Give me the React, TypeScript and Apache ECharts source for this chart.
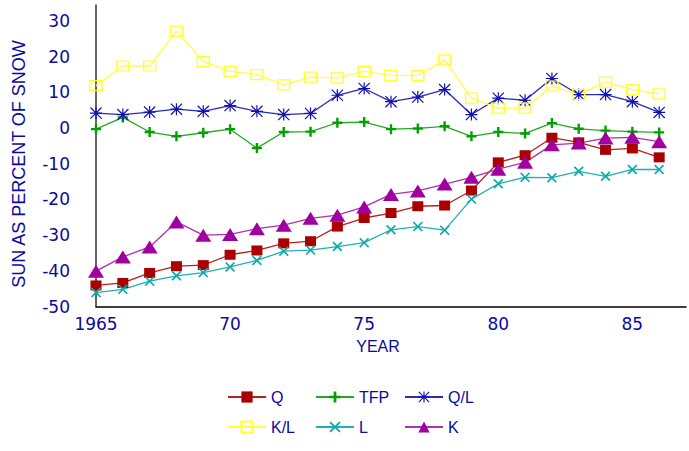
import React, { useEffect, useRef } from "react";
import * as echarts from "echarts";

const years = [1965, 1966, 1967, 1968, 1969, 1970, 1971, 1972, 1973, 1974, 1975, 1976, 1977, 1978, 1979, 1980, 1981, 1982, 1983, 1984, 1985, 1986];

const qValues = [-44.1, -43.4, -40.6, -38.7, -38.4, -35.5, -34.3, -32.3, -31.7, -27.6, -25.2, -23.8, -21.9, -21.7, -17.5, -9.6, -7.6, -2.7, -4.0, -6.1, -5.7, -8.2];
const tfpValues = [-0.3, 3.0, -1.1, -2.3, -1.3, -0.3, -5.6, -1.1, -1.0, 1.5, 1.7, -0.3, -0.1, 0.5, -2.3, -1.1, -1.5, 1.4, -0.2, -0.7, -1.0, -1.2];
const qlValues = [4.2, 3.8, 4.5, 5.3, 4.7, 6.3, 4.7, 3.8, 4.1, 9.2, 11.1, 7.4, 8.7, 10.8, 3.8, 8.4, 7.8, 13.9, 9.4, 9.4, 7.4, 4.4];
const klValues = [11.9, 17.4, 17.4, 27.2, 18.7, 15.9, 15.0, 12.1, 14.3, 14.1, 15.9, 14.8, 14.7, 19.1, 8.4, 5.6, 5.6, 11.8, 9.4, 12.9, 10.8, 9.6];
const lValues = [-46.1, -45.2, -42.9, -41.4, -40.5, -38.9, -37.1, -34.5, -34.2, -33.2, -32.1, -28.5, -27.6, -28.6, -19.9, -15.6, -13.8, -13.9, -12.1, -13.5, -11.6, -11.6];
const kValues = [-40.1, -36.1, -33.3, -26.3, -30.0, -29.8, -28.2, -27.2, -25.3, -24.4, -22.1, -18.6, -17.6, -15.7, -13.8, -11.5, -9.6, -4.7, -4.2, -2.8, -2.6, -3.8];

const yTicks = [-50, -40, -30, -20, -10, 0, 10, 20, 30];
const xTicks = [1965, 1970, 1975, 1980, 1985];

const yTitle = "SUN AS PERCENT OF SNOW";
const xTitle = "YEAR";

const FONT = "Liberation Sans";
const TICK_FONT = "DejaVu Sans";
const TEXT_COLOR = "#0a0aa0";

const PLUS = "path://M3.8,0H6.2V3.8H10V6.2H6.2V10H3.8V6.2H0V3.8H3.8Z";
const CROSS = "path://M0,1.2L1.2,0L5,3.8L8.8,0L10,1.2L6.2,5L10,8.8L8.8,10L5,6.2L1.2,10L0,8.8L3.8,5Z";
const STAR =
  "path://M4.5,0H5.5V10H4.5Z M0,4.5H10V5.5H0Z M0.7,0L10,9.3L9.3,10L0,0.7Z M9.3,0L10,0.7L0.7,10L0,9.3Z";

function pairs(vals: number[]) {
  return years.map((y, i) => [y, vals[i]]);
}

export default function App() {
  const ref = useRef<HTMLDivElement>(null);
  useEffect(() => {
    if (!ref.current) return;
    const chart = echarts.init(ref.current, null, { renderer: "svg" });
    const mk = (
      name: string,
      vals: number[],
      lineColor: string,
      symbol: string,
      symbolSize: any,
      itemStyle: any
    ) => ({
      name,
      type: "line",
      data: pairs(vals),
      symbol,
      symbolSize,
      showAllSymbol: true,
      lineStyle: { color: lineColor, width: 1.3 },
      itemStyle,
      z: 3,
    });
    const legendCommon = {
      orient: "vertical",
      top: 389,
      padding: 0,
      itemWidth: 38,
      itemHeight: 14,
      itemGap: 14,
      textStyle: { color: TEXT_COLOR, fontSize: 16, fontFamily: FONT },
      selectedMode: false,
    };
    chart.setOption({
      animation: false,
      backgroundColor: "#ffffff",
      grid: { left: 96, right: 2, top: 5, bottom: 144.5 },
      xAxis: {
        type: "value",
        min: 1965,
        max: 1987,
        interval: 5,
        axisLine: { show: true, onZero: false, lineStyle: { color: "#000", width: 1.5 } },
        axisTick: { show: false },
        splitLine: { show: false },
        axisLabel: {
          margin: 9,
          color: TEXT_COLOR,
          fontSize: 17,
          fontFamily: TICK_FONT,
          formatter: (v: number) =>
            xTicks.includes(v) ? (v === 1965 ? "1965" : String(v).slice(2)) : "",
        },
      },
      yAxis: {
        type: "value",
        min: -50,
        max: 34.5,
        interval: 10,
        axisLine: { show: true, onZero: false, lineStyle: { color: "#333", width: 1.5 } },
        axisTick: { show: false },
        splitLine: { show: false },
        axisLabel: {
          margin: 26,
          color: TEXT_COLOR,
          fontSize: 17,
          fontFamily: TICK_FONT,
          formatter: (v: number) => (yTicks.includes(v) ? String(v) : ""),
        },
      },
      legend: [
        { ...legendCommon, left: 227, data: ["Q", "K/L"] },
        { ...legendCommon, left: 315, data: ["TFP", "L"] },
        { ...legendCommon, left: 404, data: ["Q/L", "K"] },
      ],
      graphic: [
        {
          type: "text",
          x: 19,
          y: 164,
          rotation: Math.PI / 2,
          style: {
            text: yTitle,
            fill: TEXT_COLOR,
            font: `18px "${FONT}"`,
            textAlign: "center",
            textVerticalAlign: "middle",
          },
        },
        {
          type: "text",
          x: 378,
          y: 346,
          style: {
            text: xTitle,
            fill: TEXT_COLOR,
            font: `16px "${FONT}"`,
            textAlign: "center",
            textVerticalAlign: "middle",
          },
        },
      ],
      series: [
        mk("Q", qValues, "#b82020", "rect", [11, 10], { color: "#aa0000" }),
        mk("TFP", tfpValues, "#22aa22", PLUS, 10, { color: "#00a000" }),
        mk("Q/L", qlValues, "#2a2ab8", STAR, 12, { color: "#1010b0" }),
        mk("K/L", klValues, "#ffff40", "rect", [12, 10], {
          color: "rgba(255,255,255,0)",
          borderColor: "#ffff30",
          borderWidth: 1.3,
        }),
        mk("L", lValues, "#20b0b0", CROSS, 10, { color: "#10aaaa" }),
        mk("K", kValues, "#b030b0", "triangle", [16, 13], { color: "#a000a0" }),
      ],
    });
    return () => chart.dispose();
  }, []);
  return (
    <div
      ref={ref}
      style={{ position: "fixed", left: 0, top: 0, width: 689, height: 451 }}
    />
  );
}
